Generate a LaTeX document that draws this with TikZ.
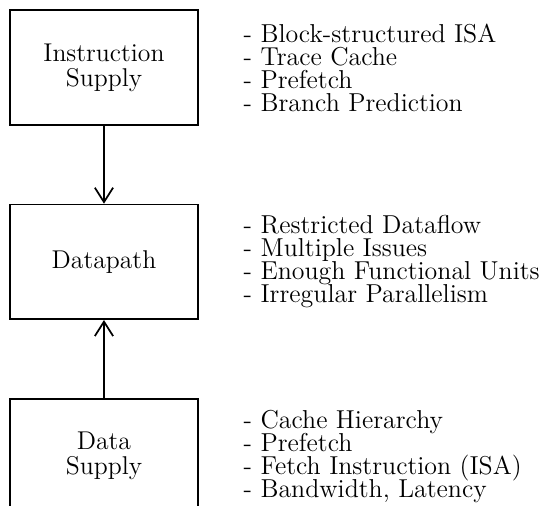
\documentclass[tikz,border=0pt]{standalone}
\usetikzlibrary{arrows.meta,positioning}
\lineskiplimit=-10pt
\lineskip=0pt
\tikzset{
    %Define standard arrow tip
    >={Straight Barb[length=7.5pt,width=9.5pt]},
    %Define style for boxes
    unit/.style={
           rectangle,
           draw=black, line width=0.9pt,
           minimum width=3.44cm,
           minimum height=2.1cm,
           font=\fontsize{13.4pt}{13pt}\selectfont,
           align=center},
    %Define style for feature lists
    feats/.style={
           align=left,
           font=\fontsize{13.5pt}{12pt}\selectfont},
    % Define arrow style
    pil/.style={
           ->,
           line width=0.9pt}
}
\begin{document}
\begin{tikzpicture}[node distance=1.43cm]
\useasboundingbox (0,0) rectangle (9.93,-9.27);
\node[unit] (isupply) at (1.905,-1.236) {Instruction\\Supply};
\node[unit, below=of isupply] (datapath) {Datapath};
\node[unit, below=of datapath] (dsupply) {Data\\Supply};

\node[feats, right=0.7cm of isupply] (isupply-feats)
    {- Block-structured ISA\\- Trace Cache\\- Prefetch\\- Branch Prediction};
\node[feats, right=0.7cm of datapath] (datapath-feats)
    {- Restricted Dataflow\\- Multiple Issues\\- Enough Functional Units\\- Irregular Parallelism};
\node[feats, right=0.7cm of dsupply] (dsupply-feats)
    {- Cache Hierarchy\\- Prefetch\\- Fetch Instruction (ISA)\\- Bandwidth, Latency};

\path   (isupply) edge[pil] (datapath)
        (dsupply) edge[pil] (datapath);

\end{tikzpicture}
\end{document}
